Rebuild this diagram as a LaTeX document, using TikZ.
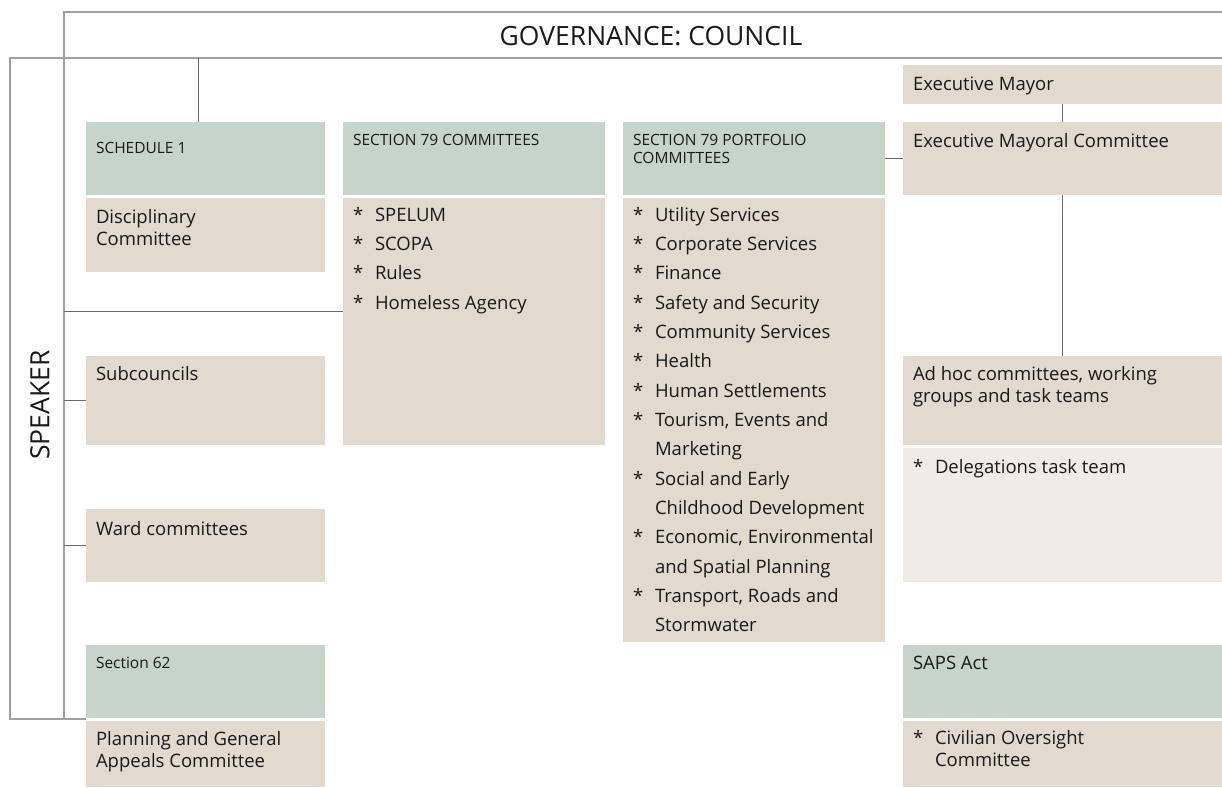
\documentclass[tikz,border=0pt]{standalone}
\usepackage{fontspec}
\setmainfont{Open Sans}
\definecolor{hdrgreen}{RGB}{198,212,203}
\definecolor{beige}{RGB}{226,217,207}
\definecolor{pale}{RGB}{240,235,229}
\definecolor{framegray}{RGB}{160,160,160}
\definecolor{linkgray}{RGB}{105,105,105}
\definecolor{ink}{RGB}{26,26,26}
\newcommand{\bul}{\makebox[22pt][l]{*}}
\newcommand{\cont}{\hspace*{22pt}}
\tikzset{
  box/.style={anchor=north west, inner sep=0pt, outer sep=0pt, draw=none},
  hdrbox/.style={box, fill=hdrgreen},
  bodybox/.style={box, fill=beige},
  palebox/.style={box, fill=pale},
  band/.style={box},
  txt/.style={anchor=base west, inner sep=0pt, outer sep=0pt, text=ink},
  htext/.style={txt, font=\fontsize{15.5}{18}\selectfont},
  btext/.style={txt, font=\fontsize{18.5}{22}\selectfont},
  frame/.style={draw=framegray, line width=1.3pt},
  link/.style={draw=linkgray, line width=0.9pt},
}
\begin{document}
\begin{tikzpicture}[x=1pt, y=-1pt]
\useasboundingbox (0,0) rectangle (1222,787);

% council band and speaker band
\node[band, minimum width=1158pt, minimum height=46pt] (council) at (64,12) {};
\node[band, minimum width=54pt, minimum height=661pt] (speaker) at (10,58) {};
\node[txt, anchor=base, font=\fontsize{26.5}{30}\selectfont] (counciltext) at (651,45) {GOVERNANCE: COUNCIL};
\node[txt, anchor=center, rotate=90, font=\fontsize{26.5}{30}\selectfont] (speakertext) at (40,405) {SPEAKER};

% boxes: left column
\node[hdrbox, minimum width=239pt, minimum height=73pt] (sch) at (86,122) {};
\node[bodybox, minimum width=239pt, minimum height=74pt] (disc) at (86,198) {};
\node[bodybox, minimum width=239pt, minimum height=89pt] (subc) at (86,356) {};
\node[bodybox, minimum width=239pt, minimum height=73pt] (ward) at (86,509) {};
\node[hdrbox, minimum width=239pt, minimum height=73pt] (sec62) at (86,645) {};
\node[bodybox, minimum width=239pt, minimum height=66pt] (plan) at (86,721) {};

% boxes: section 79 committees
\node[hdrbox, minimum width=262pt, minimum height=73pt] (scom) at (343,122) {};
\node[bodybox, minimum width=262pt, minimum height=247pt] (scomlist) at (343,198) {};

% boxes: section 79 portfolio committees
\node[hdrbox, minimum width=262pt, minimum height=73pt] (spor) at (623,122) {};
\node[bodybox, minimum width=262pt, minimum height=444pt] (sporlist) at (623,198) {};

% boxes: executive column
\node[bodybox, minimum width=319pt, minimum height=39pt] (mayor) at (903,65) {};
\node[bodybox, minimum width=319pt, minimum height=73pt] (mayco) at (903,122) {};
\node[bodybox, minimum width=319pt, minimum height=89pt] (adhoc) at (903,356) {};
\node[palebox, minimum width=319pt, minimum height=134pt] (deleg) at (903,448) {};
\node[hdrbox, minimum width=319pt, minimum height=73pt] (saps) at (903,645) {};
\node[bodybox, minimum width=319pt, minimum height=66pt] (civ) at (903,721) {};

% frame lines
\draw[frame] (council.south east) -| (speaker.north west) |- (speaker.south west -| sec62.west);
\draw[frame] (council.north east) -- (council.north west) -- (council.north west |- speaker.south);

% connectors
\draw[link] ([xshift=112pt]sch.north west) -- ([xshift=112pt]sch.north west |- council.south);
\draw[link] ([yshift=-113pt]scomlist.north west) -- ([yshift=-113pt]scomlist.north west -| speaker.east);
\draw[link] (subc.west) -- (subc.west -| speaker.east);
\draw[link] (ward.west) -- (ward.west -| speaker.east);
\draw[link] (mayor.south) -- (mayco.north);
\draw[link] (spor.east) -- (mayco.west);
\draw[link] (mayco.south) -- (adhoc.north);

% texts: headers
\node[htext] (scht) at ([shift={(10pt,-31pt)}]sch.north west) {SCHEDULE 1};
\node[htext] (scomt) at ([shift={(10pt,-23pt)}]scom.north west) {SECTION 79 COMMITTEES};
\node[htext, align=left] (sport) at ([shift={(10pt,-23pt)}]spor.north west) {\parbox[t]{250pt}{\raggedright SECTION 79 PORTFOLIO\\COMMITTEES}};
\node[htext] (sec62t) at ([shift={(10pt,-23pt)}]sec62.north west) {Section 62};

% texts: body boxes
\node[btext] (disct) at ([shift={(10pt,-25pt)}]disc.north west) {\parbox[t]{225pt}{\raggedright Disciplinary\\Committee}};
\node[btext] (subct) at ([shift={(10pt,-24pt)}]subc.north west) {Subcouncils};
\node[btext] (wardt) at ([shift={(10pt,-26pt)}]ward.north west) {Ward committees};
\node[btext] (plant) at ([shift={(10pt,-24pt)}]plan.north west) {\parbox[t]{225pt}{\raggedright Planning and General\\Appeals Committee}};
\node[btext] (mayort) at ([shift={(10pt,-25pt)}]mayor.north west) {Executive Mayor};
\node[btext] (maycot) at ([shift={(10pt,-25pt)}]mayco.north west) {Executive Mayoral Committee};
\node[btext] (adhoct) at ([shift={(10pt,-24pt)}]adhoc.north west) {\parbox[t]{305pt}{\raggedright Ad hoc committees, working\\groups and task teams}};
\node[btext] (delegt) at ([shift={(10pt,-25pt)}]deleg.north west) {\bul Delegations task team};
\node[btext] (sapst) at ([shift={(10pt,-24pt)}]saps.north west) {SAPS Act};
\node[btext] (civt) at ([shift={(10pt,-23pt)}]civ.north west) {\parbox[t]{305pt}{\raggedright \bul Civilian Oversight\\\cont Committee}};

% texts: lists
\node[txt] (scomlt) at ([shift={(10pt,-23pt)}]scomlist.north west) {\parbox[t]{250pt}{\fontsize{18.5}{29.35}\selectfont\raggedright
\bul SPELUM\\
\bul SCOPA\\
\bul Rules\\
\bul Homeless Agency}};
\node[txt] (sporlt) at ([shift={(10pt,-23pt)}]sporlist.north west) {\parbox[t]{250pt}{\fontsize{18.5}{29.35}\selectfont\raggedright
\bul Utility Services\\
\bul Corporate Services\\
\bul Finance\\
\bul Safety and Security\\
\bul Community Services\\
\bul Health\\
\bul Human Settlements\\
\bul Tourism, Events and\\
\cont Marketing\\
\bul Social and Early\\
\cont Childhood Development\\
\bul Economic, Environmental\\
\cont and Spatial Planning\\
\bul Transport, Roads and\\
\cont Stormwater}};
\end{tikzpicture}
\end{document}
